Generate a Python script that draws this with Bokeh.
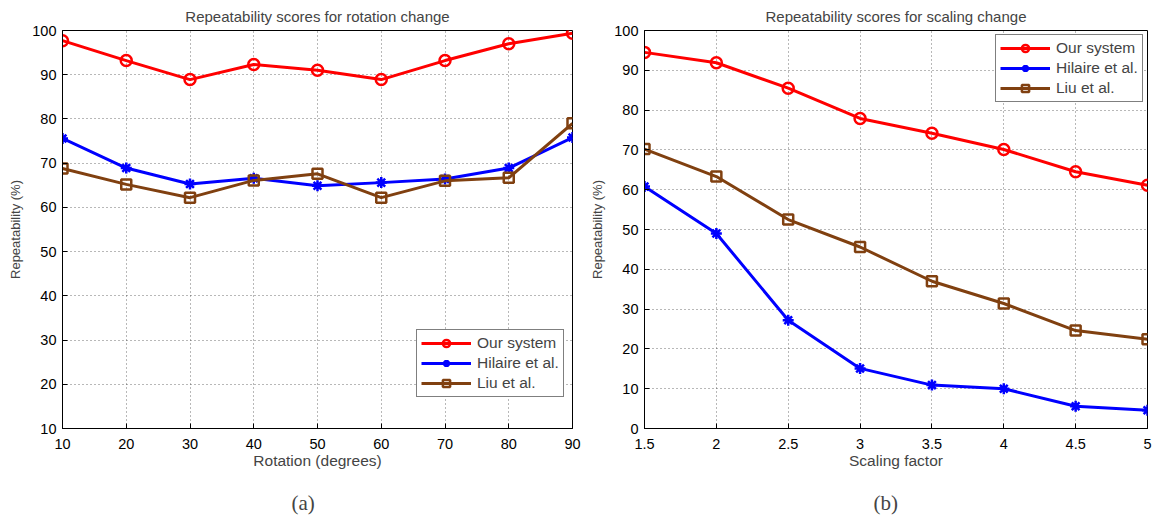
from bokeh.plotting import figure
from bokeh.layouts import row
from bokeh.models import (Range1d, FixedTicker, Title, Legend, LegendItem,
                          NumeralTickFormatter)
from bokeh.embed import file_html
from bokeh.resources import INLINE

# ---------------- data ----------------
rotation = [10, 20, 30, 40, 50, 60, 70, 80, 90]
rot_ours = [97.7, 93.2, 88.9, 92.3, 91.0, 88.9, 93.2, 97.0, 99.4]
rot_hilaire = [75.6, 68.9, 65.3, 66.6, 64.9, 65.6, 66.4, 68.9, 75.8]
rot_liu = [68.8, 65.2, 62.2, 66.1, 67.6, 62.2, 66.0, 66.7, 79.0]

scaling = [1.5, 2.0, 2.5, 3.0, 3.5, 4.0, 4.5, 5.0]
scale_ours = [94.5, 91.9, 85.5, 77.9, 74.2, 70.1, 64.5, 61.1]
scale_hilaire = [60.8, 49.0, 27.2, 15.1, 10.9, 10.0, 5.6, 4.6]
scale_liu = [70.2, 63.3, 52.5, 45.6, 37.0, 31.4, 24.6, 22.4]

series_names = ["Our system", "Hilaire et al.", "Liu et al."]
colors = ["#FF0000", "#0000FF", "#804010"]
markers = ["circle", "asterisk", "square"]
marker_sizes = [11, 11, 10]

rot_xticks = [10, 20, 30, 40, 50, 60, 70, 80, 90]
rot_yticks = [10, 20, 30, 40, 50, 60, 70, 80, 90, 100]
scale_xticks = [1.5, 2, 2.5, 3, 3.5, 4, 4.5, 5]
scale_yticks = [0, 10, 20, 30, 40, 50, 60, 70, 80, 90, 100]

FONT = "Liberation Sans"
SERIF = "Liberation Serif"


def make_panel(title, xlabel, caption, x, ys, xr, yr, xticks, yticks, width,
               border_left, border_right, legend_loc, xfmt=None):
    p = figure(width=width, height=532, output_backend="svg", toolbar_location=None,
               x_range=Range1d(*xr), y_range=Range1d(*yr),
               min_border_left=border_left, min_border_right=border_right,
               min_border_top=28, min_border_bottom=104)
    p.background_fill_color = "white"
    p.border_fill_color = "white"
    p.outline_line_color = "black"
    p.outline_line_width = 1

    p.title.text = title
    p.title.align = "center"
    p.title.text_font = FONT
    p.title.text_font_size = "15px"
    p.title.text_font_style = "normal"
    p.title.standoff = 11

    for ax in (p.xaxis[0], p.yaxis[0]):
        ax.major_label_text_font = FONT
        ax.major_label_text_font_size = "14.5px"
        ax.major_label_text_color = "black"
        ax.axis_label_text_font = FONT
        ax.axis_label_text_font_style = "normal"
        ax.axis_line_color = "black"
        ax.major_tick_in = 5
        ax.major_tick_out = 0
        ax.minor_tick_line_color = None
        ax.major_label_standoff = 6
    p.xaxis[0].major_label_standoff = 10
    p.xaxis[0].ticker = FixedTicker(ticks=xticks)
    p.yaxis[0].ticker = FixedTicker(ticks=yticks)
    if xfmt is not None:
        p.xaxis[0].formatter = xfmt
    p.xaxis[0].axis_label = xlabel
    p.xaxis[0].axis_label_text_font_size = "15.5px"
    p.xaxis[0].axis_label_standoff = 0
    p.yaxis[0].axis_label = "Repeatability (%)"
    p.yaxis[0].axis_label_text_font_size = "13px"
    p.yaxis[0].axis_label_standoff = 6

    p.xgrid.ticker = FixedTicker(ticks=xticks)
    p.ygrid.ticker = FixedTicker(ticks=yticks)
    for g in (p.xgrid[0], p.ygrid[0]):
        g.grid_line_color = "#333333"
        g.grid_line_alpha = 0.7
        g.grid_line_dash = "1 3"
        g.grid_line_width = 1

    items = []
    for name, yv, c, m, s in zip(series_names, ys, colors, markers, marker_sizes):
        lr = p.line(x, yv, line_color=c, line_width=3)
        sr = p.scatter(x, yv, marker=m, size=s, fill_color=None, line_color=c,
                       line_width=2.5)
        items.append(LegendItem(label=name, renderers=[lr, sr]))

    leg = Legend(items=items, location=legend_loc, margin=0, padding=4, spacing=2,
                 label_standoff=6, glyph_width=50, glyph_height=18, label_height=18,
                 label_text_font=FONT, label_text_font_size="15.5px",
                 border_line_color="black", border_line_width=1,
                 background_fill_color="white", background_fill_alpha=1.0)
    p.add_layout(leg)

    cap = Title(text=caption, align="left", text_font=SERIF, text_font_size="21px",
                text_font_style="normal", standoff=34, offset=229)
    p.add_layout(cap, "below")
    return p


p1 = make_panel("Repeatability scores for rotation change", "Rotation (degrees)", "(a)",
                rotation, [rot_ours, rot_hilaire, rot_liu], (10, 90), (10, 100),
                rot_xticks, rot_yticks, 587, 62, 15, (354, 31))
p2 = make_panel("Repeatability scores for scaling change", "Scaling factor", "(b)",
                scaling, [scale_ours, scale_hilaire, scale_liu], (1.5, 5), (0, 100),
                scale_xticks, scale_yticks, 566, 55, 6, (351, 326),
                xfmt=NumeralTickFormatter(format="0.[0]"))

layout = row(p1, p2)
open("out.html", "w").write(file_html(layout, INLINE))
